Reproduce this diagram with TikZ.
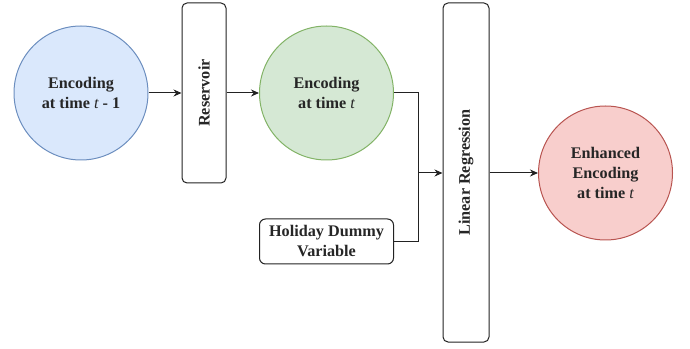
\documentclass[tikz,border=0pt]{standalone}
\usepackage{fontspec}
\setmainfont{Liberation Serif}
\usetikzlibrary{arrows.meta}
\definecolor{bluefill}{HTML}{DAE8FC}
\definecolor{bluedraw}{HTML}{6C8EBF}
\definecolor{greenfill}{HTML}{D5E8D4}
\definecolor{greendraw}{HTML}{82B366}
\definecolor{redfill}{HTML}{F8CECC}
\definecolor{reddraw}{HTML}{B85450}
\definecolor{linec}{HTML}{222222}
\begin{document}
\begin{tikzpicture}[x=1pt,y=1pt,
  lbl/.style={font=\bfseries\fontsize{16.2}{20}\selectfont, align=center, text=black!85},
  circ/.style={circle, lbl, minimum size=134pt, inner sep=0pt, line width=1pt},
  boxv/.style={rectangle, rounded corners=5pt, draw=linec, fill=white, line width=1pt, lbl, inner sep=0pt},
  conn/.style={draw=linec, line width=1pt},
  arr/.style={conn, -{Stealth[length=8pt,width=7pt]}}
]
\useasboundingbox (0,0) rectangle (690,348);
\node[circ, fill=bluefill, draw=bluedraw] (c1) at (81,255) {Encoding\\at time {\mdseries\itshape t} - 1};
\node[boxv, minimum width=44pt, minimum height=180pt] (res) at (204,255) {};
\node[lbl, rotate=90] at (res.center) {Reservoir};
\node[circ, fill=greenfill, draw=greendraw] (c2) at (326.5,255) {Encoding\\at time {\mdseries\itshape t}};
\node[boxv, minimum width=134pt, minimum height=45pt, rounded corners=6pt] (hol) at (326.5,106.5) {Holiday Dummy\\Variable};
\node[boxv, minimum width=46pt, minimum height=339pt] (lr) at (466,175.5) {};
\node[lbl, rotate=90] at (lr.center) {Linear Regression};
\node[circ, fill=redfill, draw=reddraw] (c3) at (605.5,175) {Enhanced\\Encoding\\at time {\mdseries\itshape t}};
\coordinate (J) at (418,175);
\draw[arr] (c1) -- (res);
\draw[arr] (res) -- (c2);
\draw[conn] (c2.east) -- (c2.east -| J) -- (J);
\draw[conn] (hol.east) -| (J);
\draw[arr] (J) -- (lr.west |- J);
\draw[arr] (lr.east |- c3.west) -- (c3.west);
\end{tikzpicture}
\end{document}
